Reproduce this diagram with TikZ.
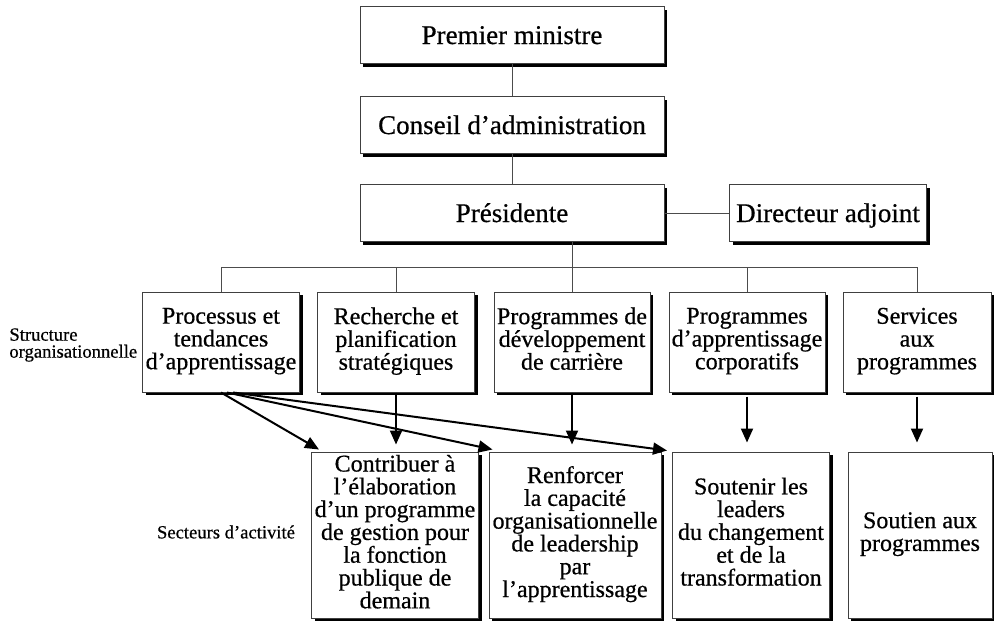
\documentclass[tikz,border=0pt]{standalone}
\usepackage{fontspec}
\setmainfont{Liberation Serif}[FakeBold=0.6]
\usetikzlibrary{arrows.meta, positioning, shadows}

\begin{document}
\begin{tikzpicture}[
  x=0.5pt, y=-0.5pt,
  every node/.style={font=\fontsize{12}{11.4}\selectfont},
  box/.style={draw=black!75, line width=0.5pt, fill=white, rectangle, align=center, inner sep=1pt,
    execute at begin node=\strut, execute at end node=\strut,
    drop shadow={shadow xshift=1.5pt, shadow yshift=-1.5pt, opacity=1, fill=black}},
  topbox/.style={box, minimum width=152pt, minimum height=28.5pt, font=\fontsize{13.5}{14}\selectfont,
    execute at begin node={}, execute at end node={}, text height=9pt, text depth=0pt},
  midbox/.style={box, minimum height=50pt},
  lowbox/.style={box, minimum height=83pt},
  link/.style={draw=black!70, line width=0.5pt},
  feed/.style={line width=1pt, -{Triangle[length=7pt, width=6pt]}},
  side/.style={font=\fontsize{9.3}{8.5}\selectfont, align=left, inner sep=0pt}
]
\useasboundingbox (0,0) rectangle (994,621);

% Top of the chart
\node[topbox] (pm) at (512,35) {Premier ministre};
\node[topbox] (ca) at (512,125) {Conseil d’administration};
\node[topbox] (pres) at (512,213) {Présidente};
\node[topbox, minimum width=98.5pt] (dir) at (828,213) {Directeur adjoint};

% Organisational structure
\node[midbox, minimum width=78.5pt] (proc) at (221,342) {Processus et\\tendances\\d’apprentissage};
\node[midbox, minimum width=78.5pt] (rech) at (396,342) {Recherche et\\planification\\stratégiques};
\node[midbox, minimum width=78pt] (pdev) at (572,342) {Programmes de\\développement\\de carrière};
\node[midbox, minimum width=78pt] (papp) at (747,342) {Programmes\\d’apprentissage\\corporatifs};
\node[midbox, minimum width=74pt] (serv) at (917,342) {Services\\aux\\programmes};

% Business lines
\node[lowbox, minimum width=83.5pt] (contrib) at (395,535) {Contribuer à\\l’élaboration\\d’un programme\\de gestion pour\\la fonction\\publique de\\demain};
\node[lowbox, minimum width=86pt] (renf) at (575,535) {Renforcer\\la capacité\\organisationnelle\\de leadership\\par\\l’apprentissage};
\node[lowbox, minimum width=78.5pt] (sout) at (751,535) {Soutenir les\\leaders\\du changement\\et de la\\transformation};
\node[lowbox, minimum width=72pt] (soutien) at (920,535) {Soutien aux\\programmes};

% Side labels
\node[side, anchor=west] (struct) at (9,345) {Structure\\organisationnelle};
\node[side] (sect) at (226,532) {Secteurs d’activité};

% Lines
\coordinate (bus) at (0,267);
\draw[link] (pm) -- (ca);
\draw[link] (ca) -- (pres);
\draw[link] (pres) -- (dir);
\draw[link] (pdev.north |- pres.south) -- (pdev.north);
\draw[link] (proc.north) |- (bus -| serv.north) -- (serv.north);
\foreach \n in {rech, papp}
  \draw[link] (\n.north) -- (\n.north |- bus);

% Arrows
\draw[feed] (proc.south) -- ([xshift=4pt, yshift=1pt]contrib.north west);
\draw[feed] ([xshift=3pt]proc.south) -- ([xshift=2pt, yshift=1pt]renf.north west);
\draw[feed] ([xshift=6pt]proc.south) -- ([xshift=-2.5pt, yshift=0.5pt]sout.north west);
\draw[feed, shorten >=3.5pt] (rech.south) -- (rech.south |- contrib.north);
\draw[feed, shorten >=3.5pt] (pdev.south) -- (pdev.south |- renf.north);
\draw[feed, shorten >=4.5pt] ([yshift=-2pt]papp.south) -- (papp.south |- sout.north);
\draw[feed, shorten >=4.5pt] ([yshift=-2pt]serv.south) -- (serv.south |- soutien.north);
\end{tikzpicture}
\end{document}
